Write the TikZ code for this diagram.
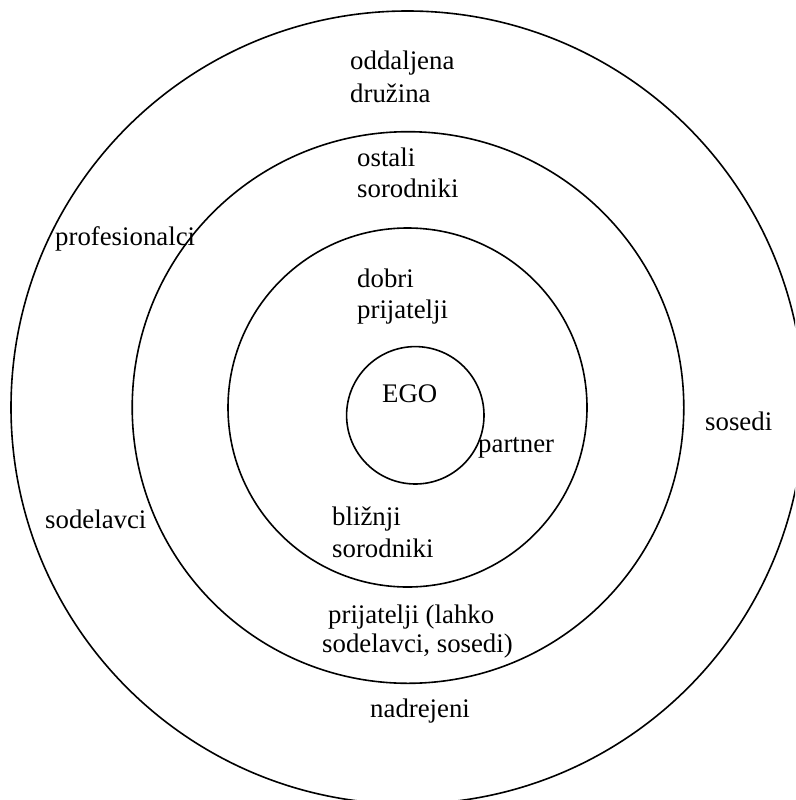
\documentclass[tikz,border=0pt]{standalone}
\usepackage{fontspec}
\setmainfont{Liberation Serif}
\begin{document}
\begin{tikzpicture}[x=1pt,y=-1pt,
  ring/.style={draw=black,line width=1.6pt},
  lbl/.style={anchor=base west,inner sep=0pt,font=\fontsize{26.8}{31}\selectfont}]
\useasboundingbox (0,0) rectangle (795,800);
\clip (0,0) rectangle (795,800);
\fill[white] (0,0) rectangle (795,800);
\draw[ring] (407.5,407.5) circle[radius=396.5pt];
\draw[ring] (408,407.5) circle[radius=275.8pt];
\draw[ring] (407.5,407.5) circle[radius=179.5pt];
\draw[ring] (415.3,415.3) circle[radius=68.7pt];
\node[lbl] (odd1) at (350,70) {oddaljena};
\node[lbl] (odd2) at (350,102) {družina};
\node[lbl] (ost1) at (357,166) {ostali};
\node[lbl] (ost2) at (357,197) {sorodniki};
\node[lbl] (prof) at (55,245) {profesionalci};
\node[lbl] (dob1) at (357,287) {dobri};
\node[lbl] (dob2) at (357,318) {prijatelji};
\node[lbl] (ego) at (382,402) {EGO};
\node[lbl] (sos) at (705,430) {sosedi};
\node[lbl] (part) at (478,452) {partner};
\node[lbl] (sod) at (45,528) {sodelavci};
\node[lbl] (bli1) at (332,525) {bližnji};
\node[lbl] (bli2) at (332,557) {sorodniki};
\node[lbl] (pri1) at (328,623) {prijatelji (lahko};
\node[lbl] (pri2) at (322,652) {sodelavci, sosedi)};
\node[lbl] (nad) at (370,717) {nadrejeni};
\end{tikzpicture}
\end{document}
